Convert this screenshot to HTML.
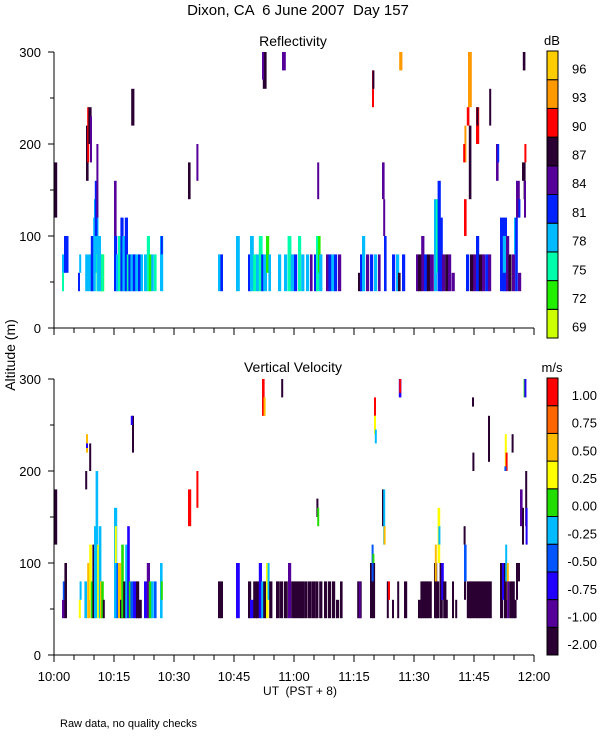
<!DOCTYPE html>
<html><head><meta charset="utf-8">
<style>
body{margin:0;background:#fff;}
svg{display:block;font-family:"Liberation Sans",sans-serif;}
text{fill:#000;white-space:pre;}
</style></head>
<body>
<svg id="chart" width="600" height="750" viewBox="0 0 600 750" xmlns="http://www.w3.org/2000/svg" xml:space="preserve">
<text x="298" y="15" font-size="15" text-anchor="middle">Dixon, CA  6 June 2007  Day 157</text>
<text x="293" y="46" font-size="14" text-anchor="middle">Reflectivity</text>
<text x="293" y="372" font-size="14" text-anchor="middle">Vertical Velocity</text>
<text transform="translate(15,355) rotate(-90)" font-size="14" text-anchor="middle">Altitude (m)</text>
<text x="300" y="695" font-size="12" text-anchor="middle">UT  (PST + 8)</text>
<text x="60" y="727" font-size="11">Raw data, no quality checks</text>
<g id="marks"></g>
</svg>
<script>
const reflBins = [69,72,75,78,81,84,87,90,93,96];
const reflColors = ["#ccff00","#22ee00","#00ffaa","#00bbff","#0022ff","#550099","#2a0033","#ff0000","#ff9900","#ffcc00"];
const velLabels = ["-2.00","-1.00","-0.75","-0.50","-0.25","0.00","0.25","0.50","0.75","1.00"];
const velBins = [-2,-1,-0.75,-0.5,-0.25,0,0.25,0.5,0.75,1.0];
const velColors = ["#2a0033","#550099","#2200ff","#0055ff","#00bbff","#22dd00","#ffff00","#ffbb00","#ff6600","#ff0000"];
const xTickLabels = ["10:00","10:15","10:30","10:45","11:00","11:15","11:30","11:45","12:00"];
const yTickLabels = [0,100,200,300];
// segments: [minutes after 10:00, width (min), alt low, alt high, value]
const reflSegs = [
[0,0.5,120,180,87],
[2,0.5,60,80,78],[2.5,0.7,60,100,81],[2,0.3,40,60,75],
[6,0.3,40,60,81],[6.3,0.3,60,80,78],
[7.8,0.5,40,80,78],[8,0.4,160,220,87],[8.3,0.3,180,240,90],[8.6,0.5,200,240,87],[9,0.3,180,230,84],
[8.5,0.6,40,80,78],[9.2,0.5,40,100,81],[9.8,0.4,40,120,78],[10,0.7,60,140,78],[10.2,0.4,100,160,81],[10.6,0.3,120,200,84],[10.6,1,40,80,75],[11.6,0.6,40,80,72],[10.8,0.6,40,100,78],
[11.8,0.4,40,80,75],
[15,0.5,40,100,81],[15,0.4,100,160,84],[15.5,0.5,40,80,78],[16,0.6,40,100,75],[16.6,0.5,40,120,81],[17.1,0.6,40,100,78],[17.7,0.5,40,120,81],[18.2,0.4,40,80,75],[18.6,0.5,40,80,81],[19.1,0.6,40,80,78],[19.7,0.5,40,80,81],[20.3,0.6,40,80,78],[21,0.4,40,80,81],[21.6,0.4,40,80,78],[22.5,0.5,40,80,78],[23.2,0.5,40,100,75],[23.7,0.5,40,80,72],[24.3,0.4,40,80,78],[25,0.4,40,80,75],[26.5,0.5,40,100,78],[26.7,0.3,80,100,81],
[19.3,0.5,220,260,87],
[33.5,0.4,140,180,87],[35.6,0.3,160,200,84],
[41,0.5,40,80,78],[41.6,0.4,40,80,81],
[45.5,0.6,40,100,78],
[48.5,0.5,40,80,81],[49,0.6,40,100,78],[49.8,0.6,40,80,75],[50.5,0.5,40,80,78],[51.2,0.6,40,100,75],[51.8,0.4,40,80,81],[52.3,0.6,40,80,78],[53,0.5,60,100,72],[53.6,0.4,40,80,78],
[52.2,0.6,260,300,87],[52,0.2,270,300,84],
[57,0.6,280,300,84],
[56,0.5,40,80,78],[57.5,0.5,40,80,78],[58.4,0.6,40,100,75],[59.2,0.5,40,80,78],[60,0.5,40,80,81],[61,0.5,40,100,75],[61.8,0.5,40,80,78],[63,0.5,40,80,78],[64,0.4,40,80,84],[65,0.5,40,80,81],[65.5,0.6,40,100,75],[66,0.4,60,100,72],[65.8,0.3,140,180,84],[66.3,0.5,40,80,78],
[68,0.5,40,80,84],[68.6,0.5,40,80,81],[69.3,0.5,40,80,78],[70,0.5,40,80,81],[71,0.5,40,80,84],
[76,0.5,40,60,87],[76.5,0.4,40,80,81],[77,0.5,40,100,78],
[78,0.5,40,80,84],[79,0.5,40,80,81],[80,0.5,40,80,78],[81,0.4,40,80,84],
[79.5,0.3,240,280,90],[79.6,0.2,260,280,87],
[82,0.4,140,180,84],[82.3,0.3,100,140,84],[82.5,0.4,40,100,81],
[84.5,0.5,40,80,81],[85.5,0.5,40,80,78],[86,0.4,40,60,87],[87,0.5,40,80,81],
[86.3,0.5,280,300,93],
[90.5,0.5,40,80,84],[91,0.6,40,80,87],[91.8,0.5,40,100,84],[92.5,0.5,40,80,81],[93.2,0.5,40,80,87],[94,0.6,40,80,84],[95,0.5,40,140,78],[95.5,0.4,60,140,75],[95.9,0.5,40,160,81],[96.4,0.5,40,120,81],[97,0.5,40,80,84],[97.8,0.5,40,80,87],[98.5,0.5,40,80,84],[99.4,0.5,40,60,84],
[102.5,0.4,100,140,90],[102.6,0.3,180,220,93],[102.3,0.3,180,200,90],
[103.5,0.6,240,300,93],[103.2,0.4,220,240,90],[103.7,0.4,140,220,87],
[105.5,0.5,200,240,90],[105.6,0.3,220,240,87],
[103,0.5,40,80,81],[104,0.6,40,80,87],[104.8,0.5,40,80,84],[105.5,0.5,40,100,81],[106.2,0.6,40,80,87],[107,0.5,40,80,84],[107.8,0.5,40,80,81],[108.5,0.5,40,80,84],[108.8,0.3,220,260,87],
[110.5,0.4,160,200,84],[110.8,0.3,180,200,81],
[111.5,0.7,40,120,81],[112.3,0.6,40,120,81],[112.2,0.5,60,100,78],[113,0.5,40,100,84],[113.6,0.5,40,80,87],[114.5,0.5,40,80,84],[115,0.4,80,120,78],[115.3,0.4,40,120,81],[116,0.5,40,60,84],
[115.5,0.6,120,160,84],[116.1,0.2,120,140,81],[117,0.3,160,180,87],
[117.2,0.4,280,300,87],[117.4,0.3,140,180,87],[117.6,0.3,180,200,90],[117.5,0.2,120,160,84]
];
const velSegs = [
[0,0.5,120,180,-1.5],
[2,0.4,40,60,-0.9],[2.2,0.4,60,80,-0.4],[2.6,0.4,40,100,-1.5],
[6.2,0.3,40,60,0.4],[6.4,0.3,60,80,-0.1],
[7.6,0.4,40,80,-0.1],[7.8,0.3,180,200,-1.5],[8,0.3,220,240,0.6],[8,0.2,225,230,-0.6],[8.8,0.3,200,230,-1.5],
[8.3,0.5,40,100,0.6],[8.8,0.4,60,120,0.4],[9.2,0.4,40,80,0.1],[9.6,0.4,40,120,-1.5],[10,0.5,40,140,-0.1],[10.4,0.4,60,200,-0.1],[10.8,0.4,40,120,0.4],[11.2,0.4,40,140,-0.1],[11.5,0.3,40,80,0.6],[11.8,0.4,40,80,0.1],[12.2,0.3,40,60,-1.5],
[15,0.5,40,160,-0.1],[15.2,0.3,100,140,0.4],[15.6,0.4,40,100,-0.4],[16,0.5,40,100,0.6],[16.5,0.5,40,60,-1.5],[16.8,0.4,40,120,0.1],[17.3,0.5,40,80,-1.5],[17.8,0.5,40,120,-0.1],[18.3,0.4,40,140,-0.6],[18.7,0.4,40,80,0.1],[19.1,0.5,40,80,-0.4],[19.5,0.3,220,260,-1.5],[19.2,0.2,250,260,-0.6],[19.8,0.6,40,80,-0.6],[20.5,0.5,40,80,-1.5],[21,0.6,40,60,-1.5],
[22.5,0.5,40,80,-0.6],[23.2,0.5,40,100,-0.9],[23.7,0.5,40,80,0.1],[24.3,0.4,40,80,-0.1],[25,0.4,40,80,-0.4],[26.5,0.4,40,100,-0.1],[26.7,0.3,60,80,0.1],
[33.5,0.5,140,180,1.1],[35.6,0.3,160,200,1.1],
[41,0.5,40,80,-1.5],[41.6,0.4,40,80,-1.5],
[45.5,0.6,40,100,-0.6],
[48.5,0.5,40,80,-1.5],[49,0.6,40,60,-0.6],[49.8,0.6,40,80,-1.5],[50.5,0.5,40,80,-1.5],[51.2,0.5,40,100,-0.6],[51.8,0.5,40,80,-0.1],[52.3,0.5,40,80,-1.5],[53,0.4,40,100,0.4],[53.4,0.3,60,100,-0.1],[53.8,0.5,40,80,-1.5],
[52,0.4,260,300,1.1],[52.4,0.3,260,280,0.6],
[56.8,0.3,280,300,-1.5],
[55.5,0.6,40,80,-1.5],[56.5,0.5,40,80,-1.5],[57.5,0.6,40,80,-1.5],[58.5,0.5,40,100,-0.9],[59.3,0.6,40,80,-1.5],[60.2,0.5,40,80,-1.5],[61,0.6,40,80,-1.5],[61.8,0.5,40,80,-1.5],[62.6,0.5,40,80,-1.5],[63.5,0.6,40,80,-1.5],[64.5,0.5,40,80,-1.5],[65.3,0.5,40,80,-1.5],[65.6,0.3,150,170,-1.5],[65.8,0.3,140,160,0.1],[66.3,0.5,40,80,-1.5],
[67.5,0.5,40,80,-1.5],[68.5,0.5,40,80,-1.5],[69.5,0.5,40,80,-1.5],[70.5,0.5,40,60,-1.5],[71.5,0.4,40,80,-1.5],
[75.8,0.7,40,80,-1.5],[76.2,0.3,40,80,-0.9],
[79,0.8,40,100,-1.5],[79.4,0.3,80,120,-0.4],[79.6,0.2,100,110,0.1],
[80,0.3,260,280,1.1],[80,0.3,240,260,0.4],[80.2,0.3,230,245,-0.1],
[82,0.3,140,180,-1.5],[82.3,0.3,120,180,-0.1],[82.4,0.2,120,140,0.6],
[83.2,0.3,40,80,-1.5],[83.5,0.3,60,80,1.1],[84.5,0.3,40,60,-1.5],[85.8,0.3,40,80,-1.5],
[86.2,0.4,280,300,-0.6],[86.3,0.2,285,300,1.1],
[87.5,0.5,40,80,-1.5],
[91,0.6,40,60,-1.5],[91.6,0.5,40,80,-1.5],[92.2,0.6,40,80,-1.5],[92.8,0.5,40,80,-1.5],[93.5,0.6,40,80,-1.5],
[95,0.5,40,100,-1.5],[95.2,0.3,80,120,0.6],[95.5,0.5,40,80,-1.5],[95.9,0.4,100,160,0.4],[96.1,0.3,120,140,-0.1],[96.4,0.5,40,100,-1.5],[96.8,0.4,60,100,-0.6],[97.3,0.5,40,80,-1.5],[97.8,0.4,40,60,-1.5],
[99.5,0.3,40,80,-1.5],[100.3,0.3,40,60,-1.5],
[102.5,0.4,80,120,-0.4],[102.5,0.3,60,80,-1.5],[102.4,0.2,120,140,-1.5],
[103.2,0.7,40,80,-1.5],[104,0.6,40,80,-1.5],[104.8,0.7,40,80,-1.5],[105.6,0.6,40,80,-1.5],[106.4,0.6,40,80,-1.5],[107.2,0.6,40,80,-1.5],[108,0.6,40,80,-1.5],[108.8,0.4,40,80,-1.5],
[104.5,0.2,270,280,-1.5],[104.6,0.2,200,220,-1.5],[108.5,0.2,210,260,-1.5],
[111.5,0.5,40,100,-1.5],[112,0.4,60,100,-0.6],[112.5,0.5,40,100,-1.5],[112.8,0.3,80,120,-0.1],[113.2,0.3,60,100,0.6],[113.3,0.3,40,80,-0.9],[113.8,0.5,40,80,-1.5],[114.4,0.5,40,80,-1.5],[115,0.4,40,60,-1.5],
[112.7,0.3,200,240,0.4],[112.9,0.2,200,220,1.1],[112.6,0.2,200,205,-0.4],
[114.4,0.3,220,240,-1.5],
[116.5,0.4,140,180,-0.9],[117,0.2,120,160,-1.5],
[117.8,0.3,140,200,-1.5],[117.9,0.2,120,160,-0.6],
[117.4,0.3,280,300,0.1],[117.6,0.2,280,300,-0.6],
[115.5,0.3,60,100,-1.5],[116,0.2,80,100,-1.5]
];

const NS="http://www.w3.org/2000/svg";
const g=document.getElementById('marks');
function mk(tag,attrs,parent){const e=document.createElementNS(NS,tag);for(const k in attrs)e.setAttribute(k,attrs[k]);(parent||g).appendChild(e);return e;}
const X0=54,X1=534,TMAX=120,WSCALE=1.6;
function xs(t){return X0+(t/TMAX)*(X1-X0);}
const panels=[{top:52,bot:328,name:'reflectivity'},{top:379,bot:655,name:'velocity'}];
function ys(p,a){return p.bot-(a/300)*(p.bot-p.top);}
function colorIdx(v,bins){let i=0;for(let k=0;k<bins.length;k++){if(v>=bins[k])i=k;}return i;}

function drawPanel(p,segs,bins,colors){
  const grp=mk('g',{});
  
  
  segs.forEach(s=>{
    const x=xs(s[0]),w=Math.max(2,(xs(s[0]+s[1])-x)*WSCALE);
    const y=ys(p,s[3]),h=ys(p,s[2])-y;
    const r=mk('rect',{x:x.toFixed(1),y:y.toFixed(1),width:w.toFixed(1),height:h.toFixed(1),fill:colors[colorIdx(s[4],bins)]},grp);
    
    
  });
  const ax=mk('path',{d:`M${X0} ${p.top}V${p.bot}H${X1}`,stroke:'#000','stroke-width':1,fill:'none'},grp);
  
  
  for(let a=0;a<=300;a+=50){
    const y=ys(p,a);
    mk('line',{x1:X0-(a%100===0?6:4),x2:X0,y1:y,y2:y,stroke:'#000'},grp);
  }
  yTickLabels.forEach(v=>{
    const t=mk('text',{x:X0-13,y:ys(p,v)+5,'font-size':13,'text-anchor':'end'},grp);
    t.textContent=v;
    
    
  });
  for(let m=0;m<=TMAX;m+=5){
    const x=xs(m);
    mk('line',{x1:x,x2:x,y1:p.bot,y2:p.bot+(m%15===0?7:5),stroke:'#000'},grp);
  }
}
drawPanel(panels[0],reflSegs,reflBins,reflColors);
drawPanel(panels[1],velSegs,velBins,velColors);

xTickLabels.forEach((l,i)=>{
  const t=mk('text',{x:xs(i*15),y:681,'font-size':13,'text-anchor':'middle'});
  t.textContent=l;
  
  
});

function colorbar(top,bot,colors,labels,unit,lx,anchor,name){
  const n=colors.length,h=(bot-top)/n;
  colors.forEach((c,i)=>{
    const r=mk('rect',{x:547,y:(bot-(i+1)*h).toFixed(1),width:11,height:h.toFixed(1),fill:c,stroke:'#000','stroke-width':1});
    
    
    const t=mk('text',{x:lx,y:(bot-i*h-h/2+8).toFixed(1),'font-size':13,'text-anchor':anchor});
    t.textContent=labels[i];
    
    
  });
  const u=mk('text',{x:552,y:top-6,'font-size':13,'text-anchor':'middle'});
  u.textContent=unit;
  
  
}
colorbar(51,338,reflColors,reflBins.map(String),'dB',572,'start','reflectivity-colorbar');
colorbar(378,655,velColors,velLabels,'m/s',597,'end','velocity-colorbar');
</script>
</body></html>
